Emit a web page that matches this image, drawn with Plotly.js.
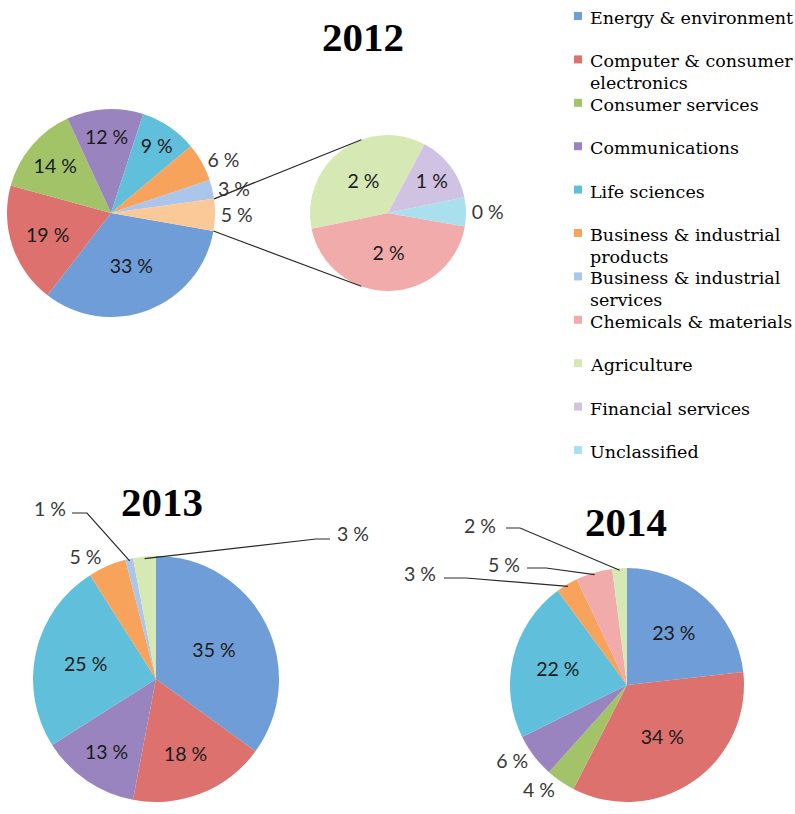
<!DOCTYPE html>
<html><head><meta charset="utf-8">
<script src="https://cdn.plot.ly/plotly-3.0.1.min.js"></script>
<style>html,body{margin:0;padding:0;background:#fff}#chart{width:795px;height:814px}</style>
</head><body><div id="chart"></div>
<script>
// ---------- data ----------
const categories = ['Energy & environment','Computer & consumer electronics','Consumer services','Communications','Life sciences','Business & industrial products','Business & industrial services','Chemicals & materials','Agriculture','Financial services','Unclassified'];
const categoryColors = ['#6f9dd8','#dc716d','#a3c368','#9a84bf','#60c0db','#f7a35c','#abc5eb','#f1abaa','#d6e8b4','#cfc2e3','#aae0ee'];
const otherLabel = 'Other';
const otherColor = '#fbc898';
const years = ['2012','2013','2014'];

const labels2012 = ['Energy & environment','Computer & consumer electronics','Consumer services','Communications','Life sciences','Business & industrial products','Business & industrial services','Other'];
const values2012 = [33,19,14,12,9,6,3,5];
const labels2012Other = ['Chemicals & materials','Agriculture','Financial services','Unclassified'];
const values2012Other = [2.2,1.8,0.7,0.3];
const labels2013 = ['Energy & environment','Computer & consumer electronics','Communications','Life sciences','Business & industrial products','Business & industrial services','Agriculture'];
const values2013 = [35,18,13,25,5,1,3];
const labels2014 = ['Energy & environment','Computer & consumer electronics','Consumer services','Communications','Life sciences','Business & industrial products','Chemicals & materials','Agriculture'];
const values2014 = [23,34,4,6,22,3,5,2];

// ---------- layout helpers ----------
const W = 795, H = 814;
const geo = {
  main2012: {cx:111, cy:213, r:104, rot:100},
  sub2012:  {cx:388, cy:213, r:78,  rot:100},
  y2013:    {cx:156, cy:679, r:123, rot:0},
  y2014:    {cx:627, cy:685, r:117, rot:0}
};
const colorOf = l => l === otherLabel ? otherColor : categoryColors[categories.indexOf(l)];
const dom = g => ({x:[(g.cx-g.r)/W,(g.cx+g.r)/W], y:[1-(g.cy+g.r)/H, 1-(g.cy-g.r)/H]});
const px = x => x/W, py = y => 1-y/H;
const sum = a => a.reduce((s,v)=>s+v,0);
function angleAt(values, frac, rot){ return rot + frac/sum(values)*360; }
function midAngle(values, i, rot){ const before = sum(values.slice(0,i)); return angleAt(values, before + values[i]/2, rot); }
function pt(g, deg, rr){ const a = deg*Math.PI/180; const R = rr===undefined?g.r:rr; return [g.cx + R*Math.sin(a), g.cy - R*Math.cos(a)]; }

const labelFont = {family:'Lato, "Open Sans", sans-serif', size:19.5, color:'#1a1a1a'};
const outFont = {family:'Lato, "Open Sans", sans-serif', size:19.5, color:'#383838'};

function pieTrace(labels, values, g, pos, tmpl){
  return {
    type:'pie', labels:labels, values:values, sort:false, direction:'clockwise', rotation:g.rot,
    domain:dom(g), marker:{colors:labels.map(colorOf), line:{width:0}},
    textposition:pos, texttemplate:tmpl, insidetextorientation:'horizontal',
    insidetextfont:labelFont, outsidetextfont:outFont, textfont:labelFont,
    showlegend:false, hoverinfo:'label+value'
  };
}

const traces = [
  pieTrace(labels2012, values2012, geo.main2012, ['inside','inside','inside','inside','inside','outside','outside','outside'], '%{value} %'),
  pieTrace(labels2012Other, values2012Other, geo.sub2012, ['inside','inside','inside','outside'], '%{value:.0f} %'),
  pieTrace(labels2013, values2013, geo.y2013, ['inside','inside','inside','inside','outside','none','none'], '%{value} %'),
  pieTrace(labels2014, values2014, geo.y2014, ['inside','inside','outside','outside','inside','none','none','none'], '%{value} %')
];

const shapes = [], annotations = [];
const lineStyle = {color:'#2a2a2a', width:1.2};

// pie-of-pie connector lines
{
  const g = geo.main2012, s = geo.sub2012;
  const start = angleAt(values2012, sum(values2012.slice(0, values2012.length-1)), g.rot);
  const end = angleAt(values2012, sum(values2012), g.rot);
  const a = pt(g, start), b = pt(s, 340);
  const c = pt(g, end), d = pt(s, 200);
  shapes.push({type:'line', xref:'paper', yref:'paper', x0:px(a[0]), y0:py(a[1]), x1:px(b[0]), y1:py(b[1]), line:lineStyle});
  shapes.push({type:'line', xref:'paper', yref:'paper', x0:px(c[0]), y0:py(c[1]), x1:px(d[0]), y1:py(d[1]), line:lineStyle});
}

// callout labels with leader lines
const callouts = [
  {g:geo.y2013, values:values2013, i:5, side:'right', tx:68,  ty:508, ly:513, hx:[72,87]},
  {g:geo.y2013, values:values2013, i:6, side:'left',  tx:335, ty:533, ly:539, hx:[330,316]},
  {g:geo.y2014, values:values2014, i:7, side:'right', tx:498, ty:525, ly:528, hx:[506,520]},
  {g:geo.y2014, values:values2014, i:6, side:'right', tx:522, ty:564, ly:568, hx:[527,546]},
  {g:geo.y2014, values:values2014, i:5, side:'right', tx:438, ty:573, ly:578, hx:[444,466]}
];
callouts.forEach(c => {
  const anchor = pt(c.g, midAngle(c.values, c.i, c.g.rot), c.g.r - 2);
  const path = `M ${px(c.hx[0])} ${py(c.ly)} L ${px(c.hx[1])} ${py(c.ly)} L ${px(anchor[0])} ${py(anchor[1])}`;
  shapes.push({type:'path', xref:'paper', yref:'paper', path:path, line:lineStyle});
  annotations.push({xref:'paper', yref:'paper', x:px(c.tx), y:py(c.ty), xanchor:c.side==='right'?'right':'left', yanchor:'middle',
    text:c.values[c.i] + ' %', showarrow:false, font:outFont});
});

// year titles
const titlePos = [[363,37],[162,502],[626,522]];
years.forEach((y,k) => annotations.push({xref:'paper', yref:'paper', x:px(titlePos[k][0]), y:py(titlePos[k][1]), xanchor:'center', yanchor:'middle',
  text:'<b>'+y+'</b>', showarrow:false, font:{family:'"Liberation Serif", serif', size:41, color:'#000'}}));

// manual legend
function wrap(t, max){ const words = t.split(' '); const lines = []; let cur = '';
  words.forEach(w => { const n = cur ? cur + ' ' + w : w; if(n.length > max && cur){ lines.push(cur); cur = w; } else cur = n; });
  lines.push(cur); return lines; }
categories.forEach((cat,k) => {
  const yc = 17 + k*43.4;
  shapes.push({type:'rect', xref:'paper', yref:'paper', x0:px(574), x1:px(582), y0:py(yc-5), y1:py(yc+3), fillcolor:categoryColors[k], line:{width:0}});
  wrap(cat, 21).forEach((ln, j) => annotations.push({xref:'paper', yref:'paper', x:px(588), y:py(yc + 1 + j*22), xanchor:'left', yanchor:'middle',
    text:ln, showarrow:false, font:{family:'"DejaVu Serif", serif', size:17.5, color:'#000'}}));
});

const layout = {width:W, height:H, margin:{l:0,r:0,t:0,b:0}, paper_bgcolor:'#fff', plot_bgcolor:'#fff',
  showlegend:false, shapes:shapes, annotations:annotations};
Plotly.newPlot('chart', traces, layout, {staticPlot:true, displayModeBar:false});
</script></body></html>
